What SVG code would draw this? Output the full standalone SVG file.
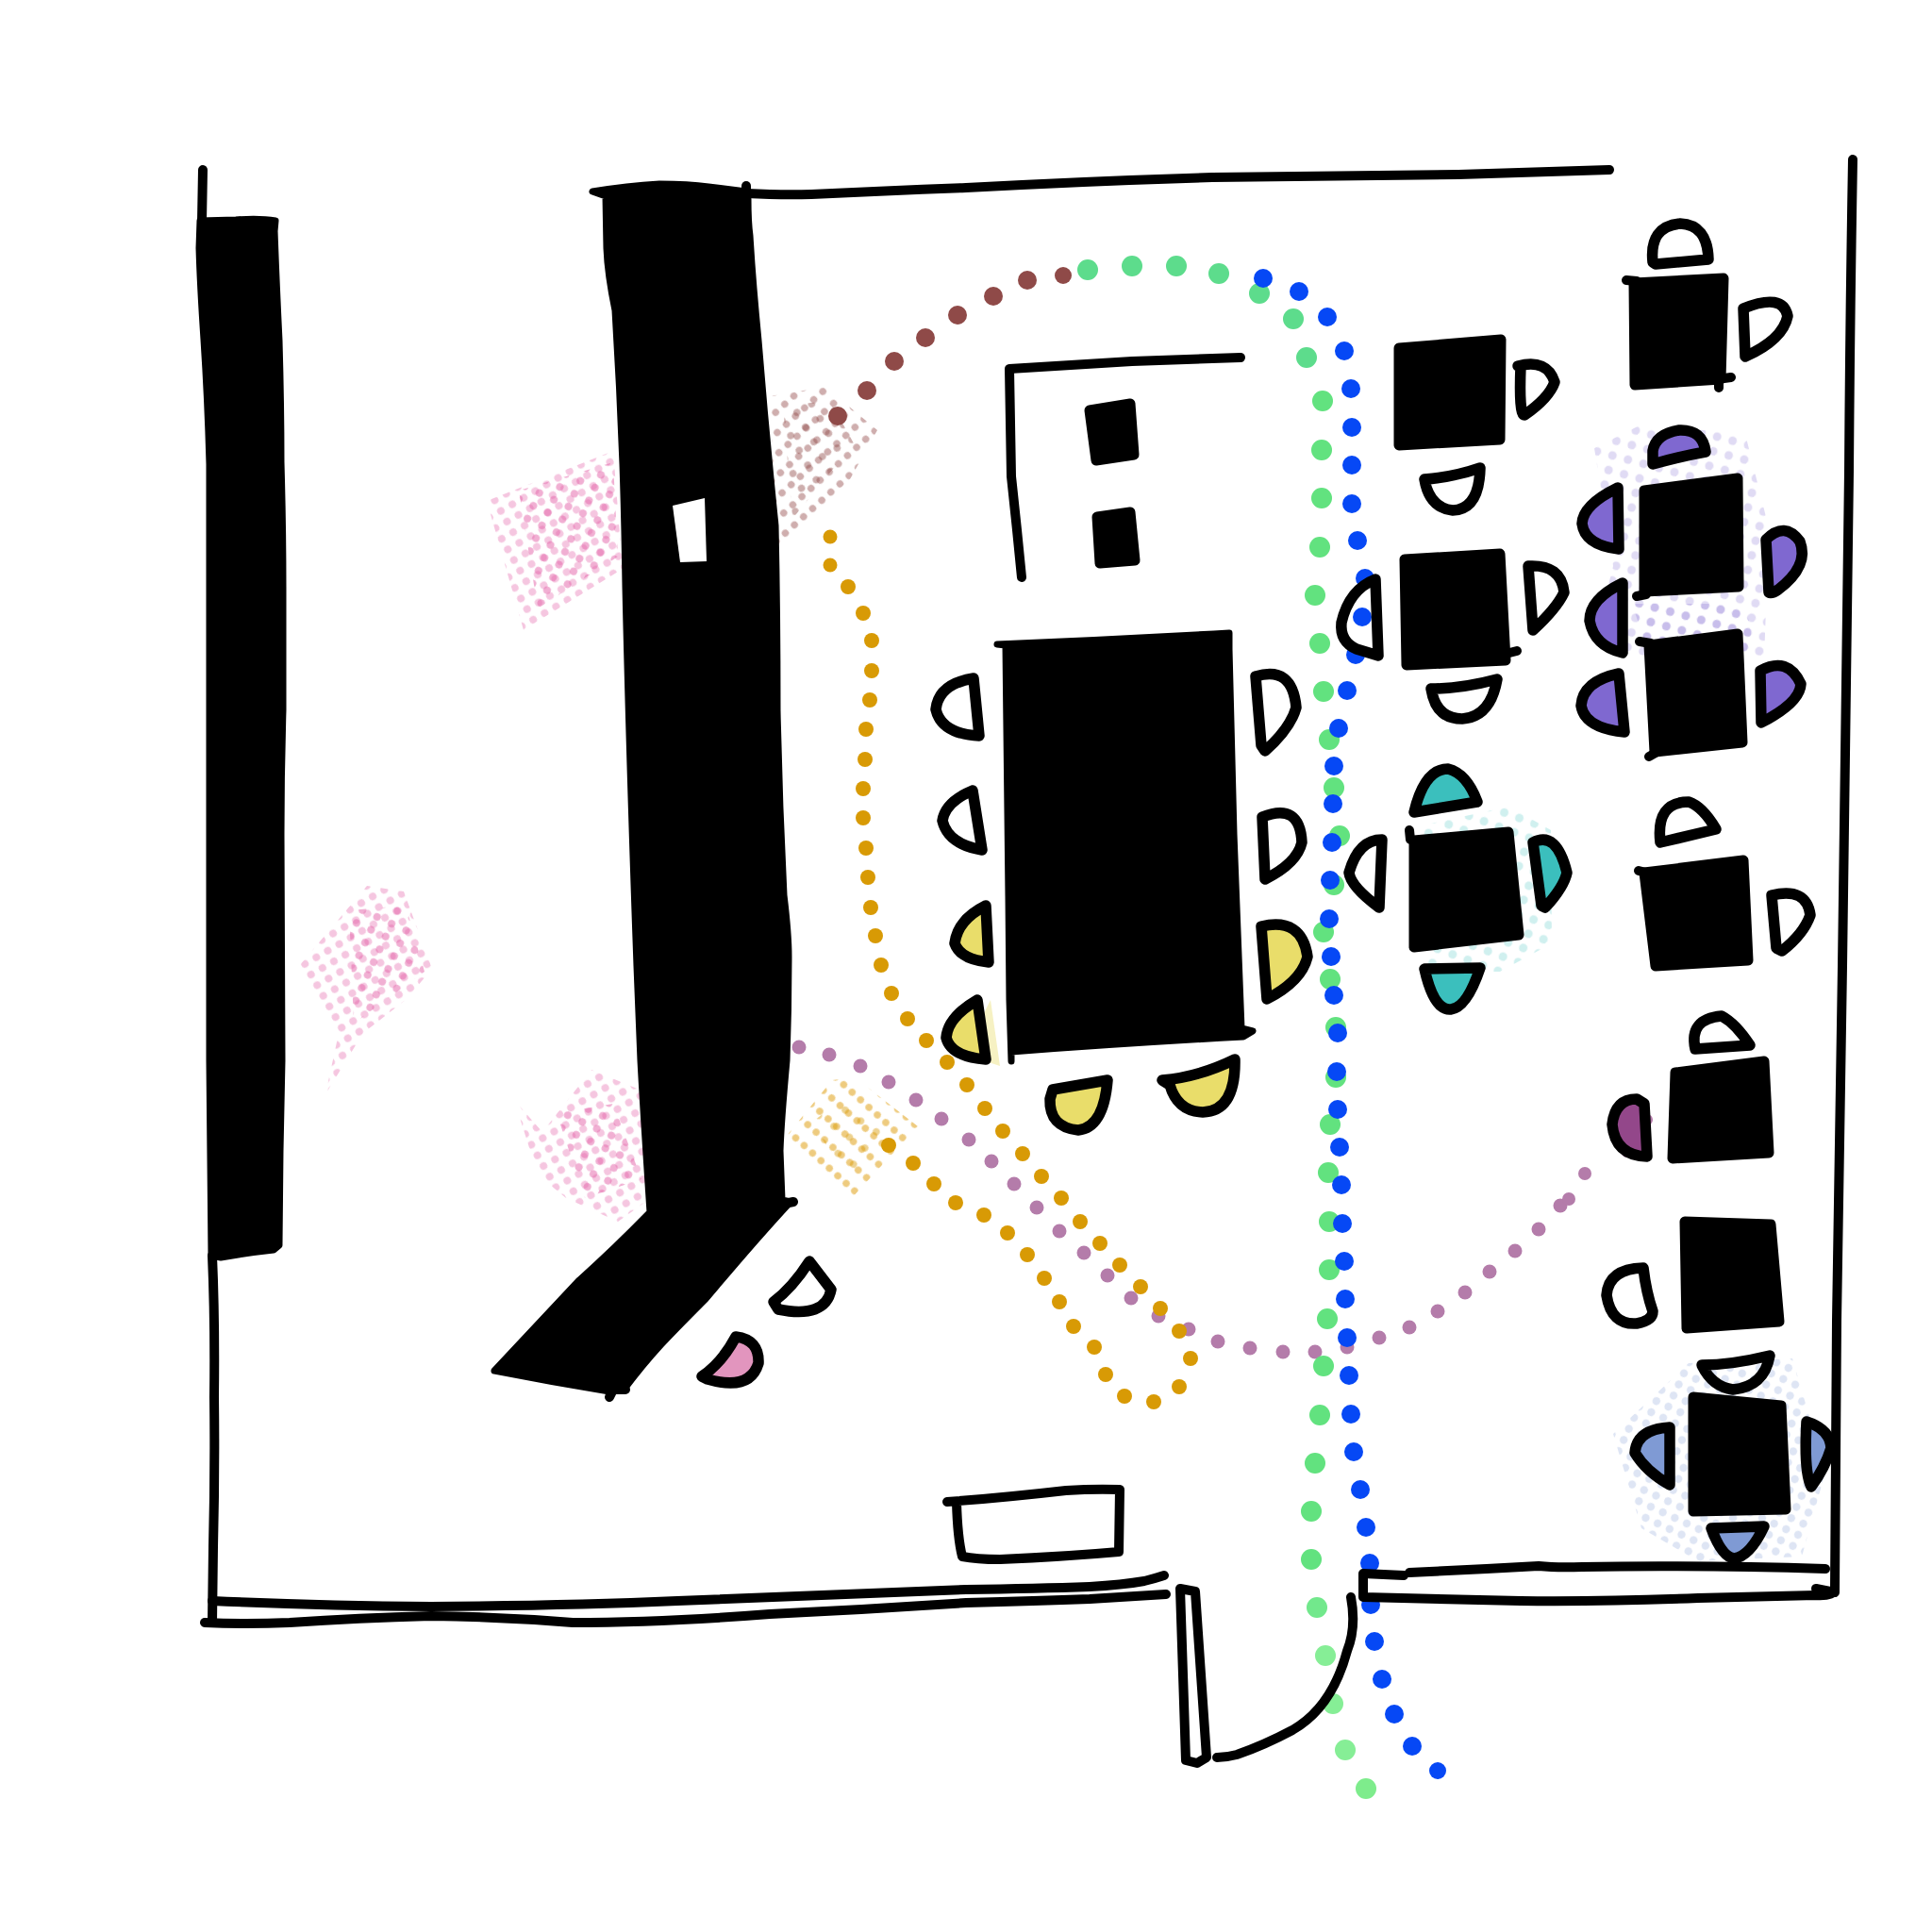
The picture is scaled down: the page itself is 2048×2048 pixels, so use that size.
<svg xmlns="http://www.w3.org/2000/svg" width="2048" height="2048" viewBox="0 0 2048 2048">
<style>
.w{fill:none;stroke:#000;stroke-width:10;stroke-linecap:round;stroke-linejoin:round}
.m{fill:#000;stroke:#000;stroke-width:7;stroke-linecap:round;stroke-linejoin:round}
.t{fill:#000;stroke:#000;stroke-width:11;stroke-linecap:round;stroke-linejoin:round}
.c{fill:none;stroke:#000;stroke-width:11.5;stroke-linejoin:round;stroke-linecap:round}
.br circle{fill:#8f4a48}.gr circle{fill:#62e27f}.bl circle{fill:#0648f5}.or circle{fill:#d89a05}.mv circle{fill:#b47caa}
</style>
<defs>
<pattern id="pk" patternUnits="userSpaceOnUse" width="14" height="13" patternTransform="rotate(-30)"><circle cx="7" cy="6.5" r="4" fill="#e878b4"/></pattern>
<pattern id="pk2" patternUnits="userSpaceOnUse" width="17" height="15" patternTransform="rotate(25)"><circle cx="8" cy="7" r="4" fill="#e25fa6"/></pattern>
<pattern id="bn" patternUnits="userSpaceOnUse" width="13" height="17" patternTransform="rotate(-42)"><circle cx="6.5" cy="8" r="3.8" fill="#9e5d5c"/></pattern>
<pattern id="bn2" patternUnits="userSpaceOnUse" width="18" height="18" patternTransform="rotate(-30)"><circle cx="9" cy="9" r="3.8" fill="#8f4a48"/></pattern>
<pattern id="yl" patternUnits="userSpaceOnUse" width="12" height="19" patternTransform="rotate(42)"><circle cx="6" cy="9" r="3.8" fill="#e3a92a"/></pattern>
<pattern id="yl2" patternUnits="userSpaceOnUse" width="20" height="21" patternTransform="rotate(35)"><circle cx="9" cy="9" r="3.8" fill="#d89a05"/></pattern>
<pattern id="te" patternUnits="userSpaceOnUse" width="17" height="16" patternTransform="rotate(20)"><circle cx="8" cy="8" r="4.5" fill="#3bbfbd"/></pattern>
<pattern id="pu" patternUnits="userSpaceOnUse" width="17" height="16" patternTransform="rotate(15)"><circle cx="8" cy="8" r="4.5" fill="#7f68d0"/></pattern>
<pattern id="bc" patternUnits="userSpaceOnUse" width="14" height="13" patternTransform="rotate(25)"><circle cx="7" cy="6" r="4.2" fill="#7f9ad4"/></pattern>
</defs>
<g id="heat">
<path d="M516 531L650 478L660 603L600 640L555 668Z" fill="url(#pk)" opacity=".42"/>
<path d="M550 520L650 490L655 590L570 645Z" fill="url(#pk2)" opacity=".5"/>
<path d="M389 939L428 945L458 1027L430 1060L385 1095L345 1160L358 1100L317 1024Z" fill="url(#pk)" opacity=".42"/>
<path d="M370 965L430 960L450 1030L375 1085Z" fill="url(#pk2)" opacity=".5"/>
<path d="M545 1166L575 1200L627 1134L690 1160L690 1270L655 1295L600 1270L570 1245Z" fill="url(#pk)" opacity=".42"/>
<path d="M590 1180L650 1170L680 1250L620 1270Z" fill="url(#pk2)" opacity=".5"/>
<path d="M816 420L875 410L930 456L901 508L823 583Z" fill="url(#bn)" opacity=".5"/>
<path d="M830 430L880 425L905 470L840 550Z" fill="url(#bn2)" opacity=".45"/>
<path d="M829 1210L882 1145L906 1142L973 1194L901 1272Z" fill="url(#yl)" opacity=".6"/>
<path d="M860 1190L900 1160L950 1200L900 1250Z" fill="url(#yl2)" opacity=".45"/>
<path d="M1507 875L1600 855L1644 880L1645 1000L1590 1030L1510 1030Z" fill="url(#te)" opacity=".24"/>
<path d="M1690 475L1740 450L1850 460L1875 560L1870 700L1760 700L1690 680L1710 600Z" fill="url(#pu)" opacity=".24"/>
<path d="M1730 640L1850 640L1860 690L1750 700Z" fill="url(#pu)" opacity=".25"/>
<path d="M1710 1520L1790 1445L1900 1440L1935 1560L1910 1650L1800 1655L1740 1620Z" fill="url(#bc)" opacity=".26"/>
<path d="M1030 1100L1050 1060L1060 1130L1045 1125Z" fill="#e9dd6a" opacity=".4"/>
</g>
<g id="path-mauve" class="mv">
<circle cx="847" cy="1110" r="7.5"/><circle cx="879" cy="1118" r="7.5"/><circle cx="912" cy="1130" r="7.5"/><circle cx="942" cy="1147" r="7.5"/><circle cx="971" cy="1166" r="7.5"/><circle cx="998" cy="1186" r="7.5"/><circle cx="1027" cy="1208" r="7.5"/><circle cx="1051" cy="1231" r="7.5"/><circle cx="1075" cy="1255" r="7.5"/><circle cx="1099" cy="1280" r="7.5"/><circle cx="1123" cy="1305" r="7.5"/><circle cx="1149" cy="1328" r="7.5"/><circle cx="1174" cy="1352" r="7.5"/><circle cx="1199" cy="1376" r="7.5"/><circle cx="1228" cy="1395" r="7.5"/><circle cx="1260" cy="1409" r="7.5"/><circle cx="1291" cy="1422" r="7.5"/><circle cx="1325" cy="1429" r="7.5"/><circle cx="1360" cy="1433" r="7.5"/><circle cx="1394" cy="1433" r="7.5"/><circle cx="1428" cy="1428" r="7.5"/><circle cx="1462" cy="1418" r="7.5"/><circle cx="1494" cy="1407" r="7.5"/><circle cx="1524" cy="1390" r="7.5"/><circle cx="1553" cy="1370" r="7.5"/><circle cx="1579" cy="1348" r="7.5"/><circle cx="1606" cy="1326" r="7.5"/><circle cx="1631" cy="1303" r="7.5"/><circle cx="1654" cy="1278" r="7.5"/><circle cx="1663" cy="1271" r="7"/><circle cx="1680" cy="1244" r="7"/><circle cx="1746" cy="1187" r="6"/><circle cx="1725" cy="1220" r="7"/>
</g>
<g id="path-orange" class="or">
<circle cx="880" cy="569" r="7.5"/><circle cx="880" cy="599" r="7.5"/><circle cx="899" cy="622" r="8"/><circle cx="915" cy="650" r="8"/><circle cx="924" cy="679" r="8"/><circle cx="924" cy="711" r="8"/><circle cx="922" cy="742" r="8"/><circle cx="918" cy="773" r="8"/><circle cx="917" cy="805" r="8"/><circle cx="915" cy="836" r="8"/><circle cx="915" cy="867" r="8"/><circle cx="918" cy="899" r="8"/><circle cx="920" cy="930" r="8"/><circle cx="923" cy="962" r="8"/><circle cx="928" cy="992" r="8"/><circle cx="934" cy="1023" r="8"/><circle cx="945" cy="1053" r="8"/><circle cx="962" cy="1080" r="8"/><circle cx="982" cy="1103" r="8"/><circle cx="1004" cy="1126" r="8"/><circle cx="1025" cy="1150" r="8"/><circle cx="1044" cy="1175" r="8"/><circle cx="1063" cy="1199" r="8"/><circle cx="1084" cy="1223" r="8"/><circle cx="1104" cy="1247" r="8"/><circle cx="1125" cy="1270" r="8"/><circle cx="1145" cy="1295" r="8"/><circle cx="1166" cy="1318" r="8"/><circle cx="1187" cy="1341" r="8"/><circle cx="1209" cy="1364" r="8"/><circle cx="1230" cy="1387" r="8"/><circle cx="1250" cy="1411" r="8"/><circle cx="1262" cy="1440" r="8"/><circle cx="1250" cy="1470" r="8"/><circle cx="1223" cy="1486" r="8"/><circle cx="1192" cy="1480" r="8"/><circle cx="1172" cy="1457" r="8"/><circle cx="1160" cy="1428" r="8"/><circle cx="1138" cy="1406" r="8"/><circle cx="1123" cy="1380" r="8"/><circle cx="1107" cy="1355" r="8"/><circle cx="1089" cy="1330" r="8"/><circle cx="1068" cy="1307" r="8"/><circle cx="1043" cy="1288" r="8"/><circle cx="1013" cy="1275" r="8"/><circle cx="990" cy="1255" r="8"/><circle cx="968" cy="1233" r="8"/><circle cx="942" cy="1214" r="8"/>
</g>
<g id="path-brown" class="br">
<circle cx="888" cy="441" r="10"/><circle cx="919" cy="414" r="10"/><circle cx="948" cy="383" r="10"/><circle cx="981" cy="358" r="10"/><circle cx="1015" cy="334" r="10"/><circle cx="1053" cy="314" r="10"/><circle cx="1089" cy="297" r="10"/><circle cx="1127" cy="292" r="9"/>
</g>
<g id="path-green" class="gr">
<circle cx="1153" cy="286" r="11" style="fill:#5ddc8c"/><circle cx="1200" cy="282" r="11" style="fill:#5ddc8c"/><circle cx="1247" cy="282" r="11" style="fill:#5ddc8c"/><circle cx="1292" cy="290" r="11" style="fill:#5ddc8c"/><circle cx="1335" cy="311" r="11" style="fill:#5ddc8c"/><circle cx="1371" cy="338" r="11" style="fill:#5ddc8c"/><circle cx="1385" cy="379" r="11" style="fill:#5ddc8c"/><circle cx="1402" cy="425" r="11"/><circle cx="1401" cy="477" r="11"/><circle cx="1401" cy="528" r="11"/><circle cx="1399" cy="580" r="11"/><circle cx="1394" cy="631" r="11"/><circle cx="1399" cy="682" r="11"/><circle cx="1403" cy="733" r="11"/><circle cx="1409" cy="784" r="11"/><circle cx="1414" cy="835" r="11"/><circle cx="1420" cy="886" r="11"/><circle cx="1414" cy="938" r="11"/><circle cx="1403" cy="988" r="11"/><circle cx="1410" cy="1038" r="11"/><circle cx="1416" cy="1089" r="11"/><circle cx="1416" cy="1142" r="11"/><circle cx="1410" cy="1192" r="11"/><circle cx="1408" cy="1243" r="11"/><circle cx="1409" cy="1295" r="11"/><circle cx="1409" cy="1346" r="11"/><circle cx="1407" cy="1398" r="11"/><circle cx="1403" cy="1448" r="11"/><circle cx="1399" cy="1500" r="11"/><circle cx="1394" cy="1551" r="11"/><circle cx="1390" cy="1602" r="11"/><circle cx="1390" cy="1653" r="11"/><circle cx="1396" cy="1704" r="11" style="fill:#72e88c"/><circle cx="1405" cy="1755" r="11" style="fill:#86ee96"/><circle cx="1413" cy="1806" r="11" style="fill:#86ee96"/><circle cx="1426" cy="1855" r="11" style="fill:#86ee96"/><circle cx="1448" cy="1896" r="11" style="fill:#7eec8c"/>
</g>
<g id="path-blue" class="bl">
<circle cx="1339" cy="295" r="10"/><circle cx="1377" cy="309" r="10"/><circle cx="1407" cy="336" r="10"/><circle cx="1425" cy="372" r="10"/><circle cx="1432" cy="412" r="10"/><circle cx="1433" cy="453" r="10"/><circle cx="1433" cy="493" r="10"/><circle cx="1433" cy="534" r="10"/><circle cx="1439" cy="573" r="10"/><circle cx="1447" cy="613" r="10"/><circle cx="1444" cy="654" r="10"/><circle cx="1437" cy="694" r="10"/><circle cx="1428" cy="732" r="10"/><circle cx="1419" cy="772" r="10"/><circle cx="1414" cy="812" r="10"/><circle cx="1413" cy="852" r="10"/><circle cx="1412" cy="893" r="10"/><circle cx="1410" cy="933" r="10"/><circle cx="1409" cy="974" r="10"/><circle cx="1411" cy="1014" r="10"/><circle cx="1414" cy="1055" r="10"/><circle cx="1418" cy="1095" r="10"/><circle cx="1417" cy="1136" r="10"/><circle cx="1418" cy="1176" r="10"/><circle cx="1420" cy="1216" r="10"/><circle cx="1422" cy="1256" r="10"/><circle cx="1423" cy="1297" r="10"/><circle cx="1425" cy="1337" r="10"/><circle cx="1426" cy="1377" r="10"/><circle cx="1428" cy="1418" r="10"/><circle cx="1430" cy="1458" r="10"/><circle cx="1432" cy="1499" r="10"/><circle cx="1435" cy="1539" r="10"/><circle cx="1442" cy="1579" r="10"/><circle cx="1448" cy="1619" r="10"/><circle cx="1452" cy="1657" r="10"/><circle cx="1453" cy="1701" r="10"/><circle cx="1457" cy="1740" r="10"/><circle cx="1465" cy="1780" r="10"/><circle cx="1478" cy="1817" r="10"/><circle cx="1497" cy="1851" r="10"/><circle cx="1524" cy="1877" r="9"/>
</g>
<g id="walls">
<path class="w" d="M215 180L214 235"/>
<path class="m" d="M212 234L250 233Q275 231 292 234L291 245Q293 300 296 361Q298 430 298 490Q300 560 300 622L300 753Q298 820 298 884L299 1124L297 1220L296 1320L290 1325Q262 1328 234 1333L224 1331L222 1124L222 753L222 492Q220 420 216 360Q212 300 211 263Z"/>
<path class="w" d="M225 1331Q228 1400 227 1481Q228 1560 226 1640L225 1720"/>
<path class="w" d="M225 1697Q340 1702 457 1703Q600 1702 718 1697Q880 1690 1024 1685Q1100 1684 1155 1682Q1190 1680 1213 1676Q1225 1673 1234 1670"/>
<path class="w" d="M217 1720Q260 1722 307 1720Q380 1715 457 1713Q530 1714 607 1720Q700 1720 816 1711Q920 1706 1024 1699Q1100 1697 1155 1695L1236 1690"/>
<path class="w" d="M791 197L791 205"/>
<path class="m" d="M628 203Q665 197 699 195Q730 195 751 198L791 203L793 211Q793 235 795 250Q798 300 804 361Q812 460 822 557Q824 650 824 753Q826 850 831 949Q836 990 836 1014Q836 1070 834 1124Q828 1190 827 1220L829 1272L838 1274Q800 1315 748 1377Q720 1405 701 1425Q680 1448 663 1471L646 1475Q585 1465 524 1453Q550 1425 614 1357Q650 1325 689 1285Q682 1180 679 1124L675 1024Q667 800 663 622Q662 550 660 492Q657 410 652 329Q644 290 643 263L642 208Z"/>
<path class="w" d="M831 1276L841 1274"/>
<path class="w" d="M646 1481L650 1473L663 1473"/>
<path d="M713 536L747 528L749 595L721 596Z" fill="#fff"/>
<path class="w" d="M791 205Q830 207 860 206Q940 202 1024 199Q1150 192 1285 188Q1420 187 1546 185L1706 180"/>
<path class="w" d="M1964 169Q1961 340 1960 500Q1956 770 1953 1024L1947 1400L1945 1686Q1942 1692 1925 1691L1800 1694Q1700 1698 1612 1697L1445 1693L1445 1668L1488 1670"/>
<path class="w" d="M1494 1667Q1560 1664 1631 1660Q1650 1662 1677 1661Q1800 1659 1935 1663"/>
<path class="w" d="M1925 1684L1945 1688"/>
<path class="w" d="M1251 1684L1257 1866L1269 1869L1279 1863L1267 1687Z"/>
<path class="w" d="M1432 1693Q1438 1725 1428 1750Q1412 1810 1370 1834Q1340 1850 1311 1860Q1300 1863 1290 1863"/>
<path class="w" d="M1315 379Q1260 381 1200 383L1070 391Q1071 450 1072 505Q1078 560 1083 612"/>
<path class="w" d="M1004 1592Q1060 1588 1130 1580Q1160 1578 1187 1579L1186 1645Q1130 1650 1060 1653Q1035 1653 1020 1650Q1015 1630 1014 1592"/>
</g>
<g id="tables">
<path class="t" d="M1155 435L1198 428L1202 482L1162 488Z"/>
<path class="t" d="M1163 548L1198 543L1203 594L1166 597Z"/>
<path class="m" d="M1057 683Q1180 678 1303 671L1303 688Q1306 790 1308 884L1316 1090L1328 1093L1318 1099Q1190 1106 1072 1115L1072 1125L1070 1060L1069 950L1066 684Z"/>
<path class="t" d="M1483 369L1591 360L1590 466L1483 472Z"/>
<path class="t" d="M1732 300L1827 295L1824 402L1733 408Z"/>
<path class="w" d="M1724 297L1735 298M1820 402L1835 400M1822 400L1822 411"/>
<path class="t" d="M1489 593L1590 587L1596 700L1491 705Z"/>
<path class="w" d="M1600 692L1608 690"/>
<path class="t" d="M1743 520L1842 507L1843 622L1743 627Z"/>
<path class="w" d="M1735 632L1745 630"/>
<path class="t" d="M1748 684L1842 672L1847 787L1754 797Z"/>
<path class="w" d="M1738 680L1750 682M1748 802L1755 798"/>
<path class="t" d="M1499 891L1599 882L1610 991L1499 1004Z"/>
<path class="w" d="M1494 880L1495 890"/>
<path class="t" d="M1743 925L1848 912L1853 1018L1755 1024Z"/>
<path class="w" d="M1737 923L1745 925"/>
<path class="t" d="M1776 1137L1870 1125L1875 1222L1773 1228Z"/>
<path class="t" d="M1786 1295L1877 1298L1886 1401L1788 1408Z"/>
<path class="t" d="M1795 1481L1888 1490L1893 1600L1795 1602Z"/>
</g>
<g id="chairs">
<path class="c" d="M1609 388Q1640 380 1648 405Q1642 422 1616 440Q1610 440 1612 388Z"/>
<path class="c" d="M1510 508Q1540 506 1569 496Q1568 540 1540 541Q1515 538 1510 508Z"/>
<path class="c" d="M1755 280L1811 275Q1810 238 1781 237Q1748 240 1752 278Z"/>
<path class="c" d="M1848 327Q1890 310 1895 335Q1890 360 1850 378Z"/>
<path class="c" d="M1752 492Q1780 484 1808 479Q1805 455 1780 456Q1755 460 1752 478Z" style="fill:#7f68d0"/>
<path class="c" d="M1715 517Q1678 535 1677 555Q1680 578 1716 582Z" style="fill:#7f68d0"/>
<path class="c" d="M1872 572Q1892 552 1908 574Q1918 600 1885 625Q1878 630 1875 628Z" style="fill:#7f68d0"/>
<path class="c" d="M1720 618Q1685 635 1685 658Q1690 685 1720 692Z" style="fill:#7f68d0"/>
<path class="c" d="M1716 714Q1678 722 1676 748Q1680 772 1722 776Z" style="fill:#7f68d0"/>
<path class="c" d="M1866 711Q1895 695 1909 725Q1908 745 1867 766Z" style="fill:#7f68d0"/>
<path class="c" d="M1517 730Q1550 730 1587 720Q1580 760 1550 762Q1522 762 1517 730Z"/>
<path class="c" d="M1620 600Q1655 598 1658 628Q1650 645 1625 668Z"/>
<path class="c" d="M1458 614Q1430 625 1422 660Q1420 680 1438 688L1461 695Z"/>
<path class="c" d="M1331 717Q1370 705 1374 750Q1368 772 1341 796L1337 790Z"/>
<path class="c" d="M1338 866Q1378 850 1380 893Q1375 915 1341 932Z"/>
<path class="c" d="M1337 982Q1380 972 1386 1014Q1380 1040 1343 1059Z" style="fill:#e9dd6a"/>
<path class="c" d="M1499 861Q1510 815 1535 815Q1555 820 1566 850Z" style="fill:#3bbfbd"/>
<path class="c" d="M1625 893Q1650 880 1661 925Q1658 940 1638 962L1634 960Z" style="fill:#3bbfbd"/>
<path class="c" d="M1465 890Q1440 890 1430 925Q1432 940 1462 962Z"/>
<path class="c" d="M1510 1027L1569 1026Q1555 1068 1538 1070Q1520 1072 1510 1027Z" style="fill:#3bbfbd"/>
<path class="c" d="M1760 893Q1755 850 1790 850Q1805 855 1819 879Z"/>
<path class="c" d="M1878 949Q1915 940 1919 970Q1912 990 1889 1008L1883 1005Z"/>
<path class="c" d="M1032 719Q995 725 992 752Q998 778 1038 780Z"/>
<path class="c" d="M1031 838Q1002 850 999 870Q1005 895 1041 901Z"/>
<path class="c" d="M1045 960Q1015 975 1012 1000Q1018 1017 1048 1020Z" style="fill:#e9dd6a"/>
<path class="c" d="M1036 1060Q1005 1078 1003 1100Q1008 1120 1045 1123Z" style="fill:#e9dd6a"/>
<path class="c" d="M1116 1155L1174 1145Q1170 1195 1143 1198Q1112 1195 1113 1165Z" style="fill:#e9dd6a"/>
<path class="c" d="M1232 1145Q1270 1142 1309 1123Q1310 1178 1275 1179Q1248 1178 1240 1150Z" style="fill:#e9dd6a"/>
<path class="c" d="M1743 1170L1746 1226Q1712 1225 1709 1192Q1712 1165 1735 1165Z" style="fill:#93478a"/>
<path class="c" d="M1797 1112Q1790 1080 1825 1077Q1840 1085 1855 1108Z"/>
<path class="c" d="M1742 1344Q1705 1345 1703 1373Q1708 1405 1735 1403Q1752 1400 1752 1390Q1745 1370 1742 1344Z"/>
<path class="c" d="M1804 1447Q1835 1447 1876 1437Q1870 1470 1837 1473Q1815 1470 1804 1447Z"/>
<path class="c" d="M1770 1513Q1735 1515 1733 1540Q1745 1560 1770 1574Z" style="fill:#7f9ad4"/>
<path class="c" d="M1915 1507Q1940 1515 1941 1535Q1935 1555 1920 1576Q1912 1560 1915 1507Z" style="fill:#7f9ad4"/>
<path class="c" d="M1814 1620L1870 1618Q1855 1650 1838 1652Q1825 1650 1814 1620Z" style="fill:#7f9ad4"/>
<path class="c" d="M820 1380Q840 1365 858 1337L881 1367Q875 1398 825 1388Z"/>
<path class="c" d="M744 1459Q765 1445 780 1417Q805 1420 804 1445Q795 1475 750 1462Z" style="fill:#e295be"/>
</g>
</svg>
